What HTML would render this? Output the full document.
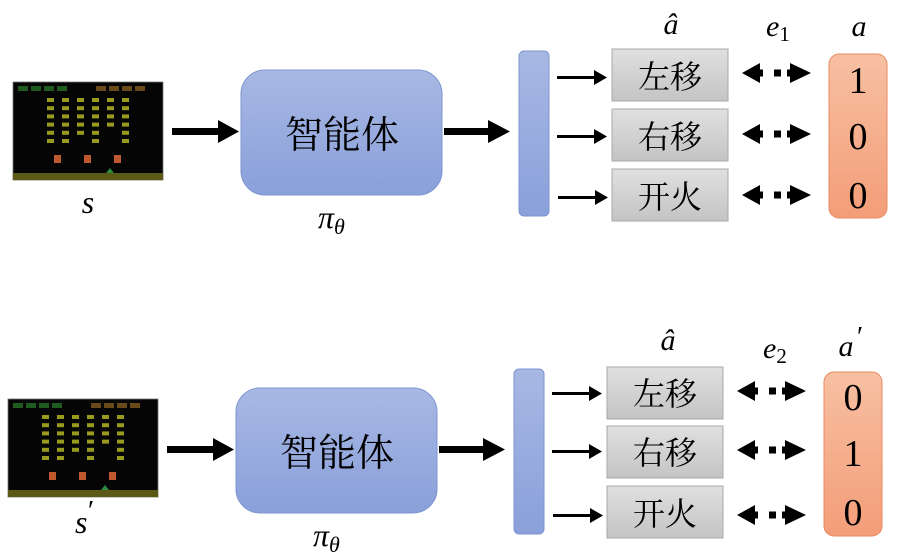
<!DOCTYPE html>
<html><head><meta charset="utf-8">
<style>
html,body{margin:0;padding:0;background:#fff;}
svg{display:block;}
text{font-family:"Liberation Serif","Noto Serif CJK SC",serif;}
.cjk{font-family:"Liberation Serif","Noto Serif CJK SC",serif;}
</style></head>
<body>
<svg width="897" height="558" viewBox="0 0 897 558" xmlns="http://www.w3.org/2000/svg">
<defs>
<linearGradient id="gb" x1="0" y1="0" x2="0" y2="1"><stop offset="0" stop-color="#a8b8e4"/><stop offset="1" stop-color="#8aa0da"/></linearGradient>
<linearGradient id="gg" x1="0" y1="0" x2="0" y2="1"><stop offset="0" stop-color="#e0e0e0"/><stop offset="1" stop-color="#c4c4c4"/></linearGradient>
<linearGradient id="go" x1="0" y1="0" x2="0" y2="1"><stop offset="0" stop-color="#f7c0a2"/><stop offset="1" stop-color="#f39d78"/></linearGradient>
</defs>

<g id="top">
  <g id="game1" transform="translate(13,82)"></g>
  <rect x="172" y="128" width="48" height="7" fill="#000"/><polygon points="218,120 239,131.5 218,143" fill="#000"/>
  <rect x="241" y="70" width="201" height="125" rx="24" fill="url(#gb)" stroke="#7f95d0" stroke-width="1"/>
  <text x="342" y="148" font-size="38" text-anchor="middle" class="cjk">智能体</text>
  <rect x="444" y="128" width="46" height="7" fill="#000"/><polygon points="488,120 510,131.5 488,143" fill="#000"/>
  <text x="88" y="213" font-size="32" font-style="italic" text-anchor="middle">s</text>
  <text x="318" y="228" font-size="32" font-style="italic">π<tspan font-size="22" dy="6">θ</tspan></text>
  <rect x="519" y="51" width="30" height="165" rx="5" fill="url(#gb)" stroke="#7f95d0"/>
  <g fill="#000">
    <rect x="557" y="76" width="38" height="3"/><polygon points="594,70 607,77.5 594,85"/>
    <rect x="557" y="135" width="38" height="3"/><polygon points="594,129 607,136.5 594,144"/>
    <rect x="558" y="196" width="38" height="3"/><polygon points="595,190 608,197.5 595,205"/>
  </g>
  <rect x="612" y="49" width="116" height="52" fill="url(#gg)" stroke="#a8a8a8"/>
  <rect x="612" y="109" width="116" height="52" fill="url(#gg)" stroke="#a8a8a8"/>
  <rect x="612" y="169" width="116" height="52" fill="url(#gg)" stroke="#a8a8a8"/>
  <text x="670" y="88" font-size="32" text-anchor="middle" class="cjk">左移</text>
  <text x="670" y="148" font-size="32" text-anchor="middle" class="cjk">右移</text>
  <text x="670" y="208" font-size="32" text-anchor="middle" class="cjk">开火</text>
  <g id="da1" fill="#000"></g>
  <rect x="829" y="54" width="58" height="164" rx="10" fill="url(#go)" stroke="#e88a62"/>
  <text x="858" y="93" font-size="38" text-anchor="middle">1</text>
  <text x="858" y="149" font-size="38" text-anchor="middle">0</text>
  <text x="858" y="208" font-size="38" text-anchor="middle">0</text>
  <text x="671" y="34" font-size="30" font-style="italic" text-anchor="middle">â</text>
  <text x="766" y="36" font-size="30" font-style="italic">e<tspan font-size="21" dy="5" font-style="normal">1</tspan></text>
  <text x="859" y="36" font-size="30" font-style="italic" text-anchor="middle">a</text>
</g>

<g id="bot">
  <g id="game2" transform="translate(8,399)"></g>
  <rect x="167" y="446" width="48" height="7" fill="#000"/><polygon points="213,438 234,449.5 213,461" fill="#000"/>
  <rect x="236" y="388" width="201" height="125" rx="24" fill="url(#gb)" stroke="#7f95d0" stroke-width="1"/>
  <text x="337" y="466" font-size="38" text-anchor="middle" class="cjk">智能体</text>
  <rect x="439" y="446" width="46" height="7" fill="#000"/><polygon points="483,438 505,449.5 483,461" fill="#000"/>
  <text x="75" y="533" font-size="32" font-style="italic">s</text><text x="88" y="520" font-size="28">′</text>
  <text x="313" y="546" font-size="32" font-style="italic">π<tspan font-size="22" dy="6">θ</tspan></text>
  <rect x="514" y="369" width="30" height="165" rx="5" fill="url(#gb)" stroke="#7f95d0"/>
  <g fill="#000">
    <rect x="552" y="392" width="38" height="3"/><polygon points="589,386 602,393.5 589,401"/>
    <rect x="552" y="450" width="38" height="3"/><polygon points="589,444 602,451.5 589,459"/>
    <rect x="553" y="514" width="38" height="3"/><polygon points="590,508 603,515.5 590,523"/>
  </g>
  <rect x="607" y="367" width="116" height="52" fill="url(#gg)" stroke="#a8a8a8"/>
  <rect x="607" y="426" width="116" height="52" fill="url(#gg)" stroke="#a8a8a8"/>
  <rect x="607" y="486" width="116" height="52" fill="url(#gg)" stroke="#a8a8a8"/>
  <text x="665" y="405" font-size="32" text-anchor="middle" class="cjk">左移</text>
  <text x="665" y="464" font-size="32" text-anchor="middle" class="cjk">右移</text>
  <text x="665" y="525" font-size="32" text-anchor="middle" class="cjk">开火</text>
  <g id="da2" fill="#000"></g>
  <rect x="824" y="372" width="58" height="164" rx="10" fill="url(#go)" stroke="#e88a62"/>
  <text x="853" y="410" font-size="38" text-anchor="middle">0</text>
  <text x="853" y="466" font-size="38" text-anchor="middle">1</text>
  <text x="853" y="525" font-size="38" text-anchor="middle">0</text>
  <text x="668" y="350" font-size="30" font-style="italic" text-anchor="middle">â</text>
  <text x="763" y="358" font-size="30" font-style="italic">e<tspan font-size="21" dy="5" font-style="normal">2</tspan></text>
  <text x="846" y="356" font-size="30" font-style="italic" text-anchor="middle">a</text><text x="857" y="346" font-size="28">′</text>
</g>

<script>
var NS="http://www.w3.org/2000/svg";
function el(p,t,a){var e=document.createElementNS(NS,t);for(var k in a)e.setAttribute(k,a[k]);p.appendChild(e);return e;}
function game(id){
  var g=document.getElementById(id);
  el(g,"rect",{x:0,y:0,width:150,height:98,fill:"#050505"});
  el(g,"rect",{x:0,y:0,width:150,height:98,fill:"none",stroke:"#777","stroke-width":0.8});
  for(var i=0;i<4;i++){el(g,"rect",{x:5+i*13,y:4,width:10,height:5,fill:"#1f5a1f"});}
  for(var i=0;i<4;i++){el(g,"rect",{x:83+i*13,y:4,width:10,height:5,fill:"#6b4a1a"});}
  var cols=[37,52,67,82,97,112];
  for(var r=0;r<6;r++)for(var c=0;c<6;c++){
    if(r==5&&(c==2||c==4))continue;
    if(r==4&&c==4)continue;
    el(g,"rect",{x:cols[c]-3,y:16+r*8.2,width:7,height:4,fill:"#9a9a1e"});
  }
  [44,74,104].forEach(function(x){el(g,"rect",{x:x-3,y:73,width:7,height:8,fill:"#c0582e"});});
  el(g,"rect",{x:0,y:91,width:150,height:7,fill:"#5a5a16"});
  el(g,"polygon",{points:"93,91 97,86 101,91",fill:"#2e8a3e"});
}
function da(id,x,y){
  var g=document.getElementById(id);
  el(g,"polygon",{points:(x)+","+y+" "+(x+18)+","+(y-10)+" "+(x+18)+","+(y+10),fill:"#000"});
  el(g,"rect",{x:x+17,y:y-3.5,width:4,height:7,fill:"#000"});
  el(g,"rect",{x:x+32,y:y-3.5,width:7,height:7,fill:"#000"});
  el(g,"rect",{x:x+45,y:y-3.5,width:4,height:7,fill:"#000"});
  el(g,"polygon",{points:(x+48)+","+(y-10)+" "+(x+69)+","+y+" "+(x+48)+","+(y+10),fill:"#000"});
}
game("game1");game("game2");
[73,134,195].forEach(function(y){da("da1",742,y);});
[391,450,515].forEach(function(y){da("da2",737,y);});
</script>
</svg>
</body></html>
